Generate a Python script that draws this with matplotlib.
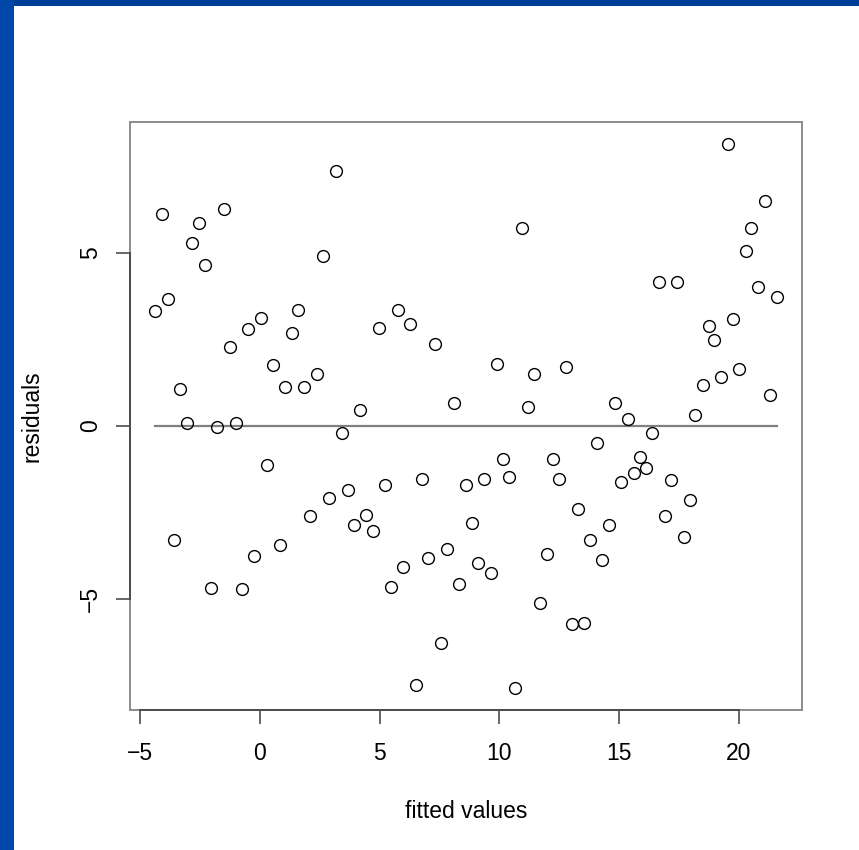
import matplotlib
matplotlib.use("Agg")
import matplotlib.pyplot as plt
from matplotlib.patches import Rectangle
import numpy as np

# fitted values and residuals
fitted = [
    -4.38, -4.10, -3.84, -3.59, -3.34, -3.06, -2.83, -2.55, -2.30, -2.05,
    -1.78, -1.51, -1.26, -1.01, -0.73, -0.49, -0.23, 0.05, 0.30, 0.55,
    0.83, 1.06, 1.33, 1.60, 1.84, 2.10, 2.38, 2.63, 2.88, 3.17,
    3.41, 3.67, 3.94, 4.19, 4.42, 4.72, 4.97, 5.22, 5.48, 5.76,
    5.99, 6.27, 6.53, 6.78, 7.03, 7.31, 7.56, 7.81, 8.09, 8.33,
    8.60, 8.85, 9.12, 9.37, 9.65, 9.90, 10.16, 10.42, 10.67, 10.95,
    11.20, 11.45, 11.70, 11.98, 12.24, 12.49, 12.76, 13.01, 13.26, 13.53,
    13.80, 14.06, 14.30, 14.58, 14.84, 15.08, 15.37, 15.60, 15.87, 16.13,
    16.38, 16.65, 16.91, 17.17, 17.42, 17.69, 17.97, 18.18, 18.48, 18.73,
    18.97, 19.24, 19.52, 19.76, 20.02, 20.28, 20.52, 20.81, 21.08, 21.30,
    21.59,
]
residuals = [
    3.32, 6.12, 3.68, -3.30, 1.08, 0.10, 5.28, 5.86, 4.65, -4.69,
    -0.02, 6.27, 2.28, 0.08, -4.72, 2.80, -3.76, 3.11, -1.12, 1.76,
    -3.45, 1.14, 2.69, 3.35, 1.12, -2.61, 1.50, 4.93, -2.09, 7.37,
    -0.19, -1.84, -2.85, 0.46, -2.57, -3.04, 2.83, -1.70, -4.66, 3.35,
    -4.08, 2.95, -7.48, -1.54, -3.82, 2.36, -6.26, -3.55, 0.68, -4.56,
    -1.71, -2.80, -3.97, -1.53, -4.24, 1.79, -0.94, -1.48, -7.58, 5.72,
    0.55, 1.49, -5.12, -3.70, -0.95, -1.52, 1.72, -5.73, -2.40, -5.68,
    -3.29, -0.48, -3.87, -2.87, 0.68, -1.63, 0.20, -1.37, -0.89, -1.22,
    -0.19, 4.15, -2.59, -1.56, 4.16, -3.22, -2.14, 0.33, 1.18, 2.89,
    2.50, 1.41, 8.16, 3.08, 1.64, 5.06, 5.73, 4.01, 6.50, 0.91,
    3.72,
]
xticks = [-5, 0, 5, 10, 15, 20]
yticks = [-5, 0, 5]

fitted = np.array(fitted)
residuals = np.array(residuals)

plt.rcParams['font.family'] = ['Liberation Sans', 'DejaVu Sans']

fig = plt.figure(figsize=(8.59, 8.5), dpi=100, facecolor="white")

# slide border (blue band at top and left)
fig.add_artist(Rectangle((0, 1 - 6/850), 1, 6/850, transform=fig.transFigure,
                         facecolor="#003f97", edgecolor="none"))
fig.add_artist(Rectangle((0, 0), 14/859, 1, transform=fig.transFigure,
                         facecolor="#0047aa", edgecolor="none"))

ax = fig.add_axes([130/859, 1 - 710/850, 672/859, 588/850])

ax.plot(fitted, residuals, 'o', markersize=8.5, markerfacecolor='none',
        markeredgecolor='black', markeredgewidth=1.0, clip_on=False)
ax.plot([fitted.min(), fitted.max()], [0, 0], color='#808080', lw=1.6,
        zorder=1)

# R style axis range: data range extended by 4 %
xr = fitted.max() - fitted.min()
yr = residuals.max() - residuals.min()
ax.set_xlim(fitted.min() - 0.04*xr, fitted.max() + 0.04*xr)
ax.set_ylim(residuals.min() - 0.04*yr, residuals.max() + 0.04*yr)

ax.set_xticks(xticks)
ax.set_yticks(yticks)

# grey box, darker axis lines only over the tick range
ax.add_patch(Rectangle((0, 0), 1, 1, transform=ax.transAxes, fill=False,
                       edgecolor='#8c8c8c', lw=1.4, clip_on=False, zorder=0))
for side in ['top', 'right']:
    ax.spines[side].set_visible(False)
ax.spines['left'].set_bounds(yticks[0], yticks[-1])
ax.spines['bottom'].set_bounds(xticks[0], xticks[-1])
for side in ['left', 'bottom']:
    ax.spines[side].set_color('#4d4d4d')
    ax.spines[side].set_linewidth(1.4)

ax.tick_params(axis='both', direction='out', length=10, width=1.3,
               color='#5a5a5a', labelsize=16.5, labelcolor='black')
ax.tick_params(axis='x', pad=13)
ax.tick_params(axis='y', pad=10)
for lab in ax.get_yticklabels():
    lab.set_rotation(90)
    lab.set_va('center')

ax.set_xticklabels(['\u22125' if t < 0 else str(t) for t in xticks])
ax.set_yticklabels(['\u22125' if t < 0 else str(t) for t in yticks],
                   rotation=90, va='center')

ax.set_xlabel('fitted values', fontsize=16.5)
ax.set_ylabel('residuals', fontsize=16.5)
ax.xaxis.set_label_coords(0.5, -(812 - 710)/588)
ax.xaxis.label.set_va('center')
ax.yaxis.set_label_coords(-(130 - 32)/672, 0.5)
ax.yaxis.label.set_va('center')

fig.savefig('out.png', dpi=100, facecolor="white")
